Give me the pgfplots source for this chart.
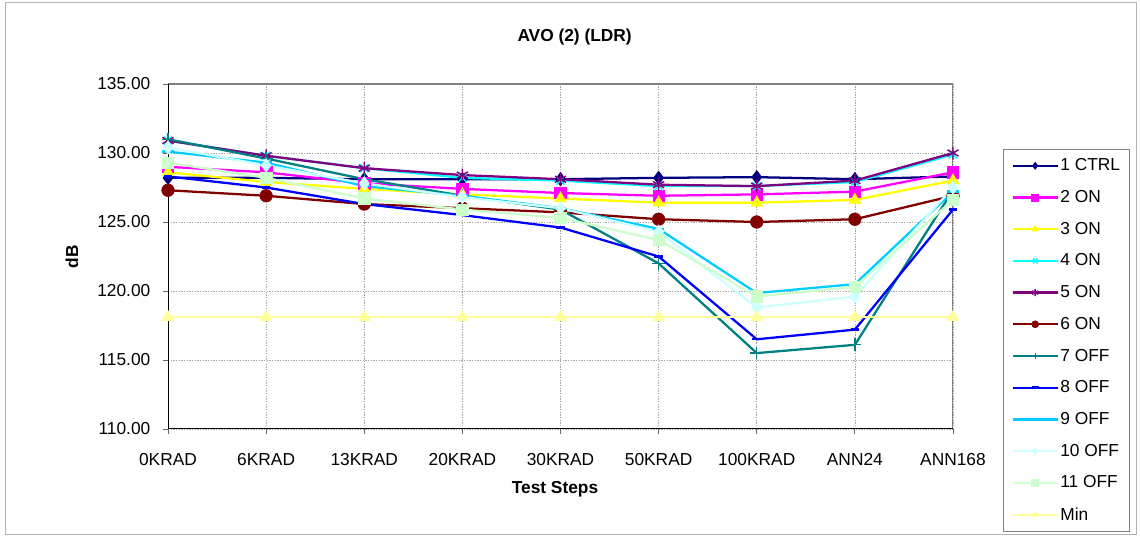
\documentclass[border=0pt]{standalone}
\usepackage{pgfplots}
\pgfplotsset{compat=1.18}
\usepackage{pgfplotstable}
\usepackage{fontspec}
\setmainfont{Liberation Sans}
\definecolor{c1}{RGB}{0,0,128}
\definecolor{c2}{RGB}{255,0,255}
\definecolor{c3}{RGB}{255,255,0}
\definecolor{c4}{RGB}{0,255,255}
\definecolor{c5}{RGB}{128,0,128}
\definecolor{c6}{RGB}{128,0,0}
\definecolor{c7}{RGB}{0,128,128}
\definecolor{c8}{RGB}{0,0,255}
\definecolor{c9}{RGB}{0,204,255}
\definecolor{c10}{RGB}{204,255,255}
\definecolor{c11}{RGB}{204,255,204}
\definecolor{c12}{RGB}{255,255,153}
\pgfplotstableread{
x s1 s2 s3 s4 s5 s6 s7 s8 s9 s10 s11 s12
0 128.2 129.0 128.6 130.9 130.9 127.3 131.0 128.3 130.1 130.4 129.3 118.1
1 128.2 128.6 127.9 129.8 129.8 126.9 129.6 127.5 129.3 129.1 128.2 118.1
2 128.1 127.8 127.4 128.9 128.9 126.3 128.1 126.3 127.6 127.8 126.7 118.1
3 128.1 127.4 127.0 128.2 128.4 126.0 126.9 125.5 126.9 126.8 125.9 118.1
4 128.1 127.1 126.7 128.0 128.1 125.7 125.9 124.6 126.0 126.0 125.3 118.1
5 128.2 126.9 126.4 127.6 127.7 125.2 122.0 122.5 124.5 124.3 123.7 118.1
6 128.25 127.0 126.4 127.6 127.6 125.0 115.5 116.5 119.85 118.8 119.6 118.1
7 128.1 127.2 126.6 127.9 128.0 125.2 116.1 117.2 120.5 119.6 120.3 118.1
8 128.3 128.6 128.0 129.9 130.0 126.9 127.3 125.9 127.2 127.5 126.6 118.1
}\datatable
\begin{document}
\begin{tikzpicture}
\path[use as bounding box] (0,0) rectangle (855pt,403.5pt);
\draw[gray!60, line width=0.75pt] (3.75pt,2.25pt) rectangle (852pt,401.25pt);
\begin{axis}[
  at={(126pt,81.75pt)}, anchor=south west,
  scale only axis, width=588.75pt, height=258.75pt,
  xmin=0, xmax=8, ymin=110, ymax=135,
  xtick={0,...,8},
  xticklabels={0KRAD,6KRAD,13KRAD,20KRAD,30KRAD,50KRAD,100KRAD,ANN24,ANN168},
  ytick={110,115,120,125,130,135},
  /pgf/number format/assume math mode=true,
  ticklabel style={font=\fontsize{13}{15}\selectfont},
  yticklabel style={xshift=-6pt, /pgf/number format/.cd,fixed,fixed zerofill,precision=2,assume math mode=true},
  xticklabel style={yshift=-11pt},
  xtick pos=bottom, ytick pos=left,
  axis line style={draw=none},
  tick align=outside, major tick length=3.75pt,
  tick style={black!60, line width=0.6pt},
  grid=major,
  major grid style={gray!70, dash pattern=on 1pt off 1pt, line width=0.5pt},
  xlabel={\textbf{Test Steps}},
  ylabel={\textbf{dB}},
  label style={font=\fontsize{13}{15}\selectfont},
  xlabel style={at={(axis description cs:0.493,-0.176)}, anchor=center},
  ylabel style={at={(axis description cs:-0.1223,0.5)}, anchor=center},
  title={\textbf{AVO (2) (LDR)}},
  title style={at={(axis description cs:0.518,1.113)}, anchor=center, font=\fontsize{13}{15}\selectfont},
  every axis plot/.append style={line width=1.7pt},
  mark size=5pt,
  legend cell align=left,
  legend image code/.code={\draw[mark repeat=2,mark phase=2, mark size=2.6pt] plot coordinates {(0pt,0pt)(17pt,0pt)(34pt,0pt)};},
  legend style={at={(axis description cs:1.0637,0.8116)}, anchor=north west,
    draw=gray, line width=0.6pt, font=\fontsize{13}{15}\selectfont,
    row sep=11.2pt, inner xsep=6pt, inner ysep=6pt,
    nodes={inner sep=1pt}},
]
\draw[gray, line width=1.2pt] (rel axis cs:0,1) -- (rel axis cs:1,1) -- (rel axis cs:1,0);
\draw[black, line width=0.8pt] (rel axis cs:0,1) -- (rel axis cs:0,0) -- (rel axis cs:1,0);
\addplot[c1, mark=diamond*, mark size=5pt, mark options={solid,fill=c1,line width=0.5pt}] table[x=x,y=s1]{\datatable};
\addlegendentry{1 CTRL}
\addplot[c2, mark=square*, mark size=4.3pt, mark options={solid,fill=c2,line width=0.5pt}] table[x=x,y=s2]{\datatable};
\addlegendentry{2 ON}
\addplot[c3, mark=triangle*, mark size=5pt, mark options={solid,fill=c3,line width=0.5pt}] table[x=x,y=s3]{\datatable};
\addlegendentry{3 ON}
\addplot[c4, mark=x, mark size=4.3pt, mark options={solid,line width=1pt}] table[x=x,y=s4]{\datatable};
\addlegendentry{4 ON}
\addplot[c5, mark=asterisk, mark size=4.8pt, mark options={solid,line width=1.1pt}] table[x=x,y=s5]{\datatable};
\addlegendentry{5 ON}
\addplot[c6, mark=*, mark size=4.7pt, mark options={solid,fill=c6,line width=0.5pt}] table[x=x,y=s6]{\datatable};
\addlegendentry{6 ON}
\addplot[c7, mark=+, mark size=4.8pt, mark options={solid,line width=1pt}] table[x=x,y=s7]{\datatable};
\addlegendentry{7 OFF}
\addplot[c8, mark=-, mark size=3.2pt, mark options={solid,line width=1.8pt}] table[x=x,y=s8]{\datatable};
\addlegendentry{8 OFF}
\addplot[c9, mark=-, mark size=4.3pt, mark options={solid,line width=2pt}] table[x=x,y=s9]{\datatable};
\addlegendentry{9 OFF}
\addplot[c10, mark=diamond*, mark size=5pt, mark options={solid,fill=c10,line width=0.5pt}] table[x=x,y=s10]{\datatable};
\addlegendentry{10 OFF}
\addplot[c11, mark=square*, mark size=4.3pt, mark options={solid,fill=c11,line width=0.5pt}] table[x=x,y=s11]{\datatable};
\addlegendentry{11 OFF}
\addplot[c12, mark=triangle*, mark size=5pt, mark options={solid,fill=c12,line width=0.5pt}] table[x=x,y=s12]{\datatable};
\addlegendentry{Min}
\end{axis}
\end{tikzpicture}
\end{document}
